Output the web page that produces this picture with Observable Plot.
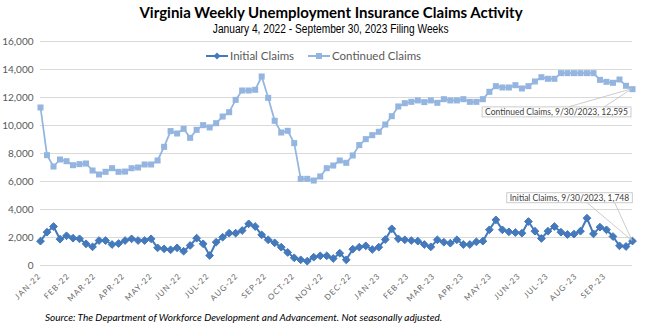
<!DOCTYPE html>
<html>
<head>
<meta charset="utf-8">
<script src="https://cdn.jsdelivr.net/npm/d3@7"></script>
<script src="https://cdn.jsdelivr.net/npm/@observablehq/plot@0.6"></script>
<style>
  body { margin: 0; background: #fff; }
  #wrap { position: relative; width: 662px; height: 330px; overflow: hidden; font-family: Lato, "Open Sans", sans-serif; }
  #chart { position: absolute; left: 0; top: 0; }
  #title { position: absolute; top: 3px; left: 0; width: 662px; text-align: center; font-weight: bold; font-size: 15px; line-height: 18px; color: #000; }
  #subtitle { position: absolute; top: 22px; left: 0; width: 662px; text-align: center; font-family: "Liberation Sans", Arial, sans-serif; font-size: 12px; line-height: 14px; color: #000; }
  #subtitle span { display: inline-block; transform: scaleX(0.85); transform-origin: center; white-space: nowrap; }
  .leg { position: absolute; top: 49px; height: 13px; font-size: 11.5px; line-height: 13px; color: #595959; white-space: nowrap; display: flex; align-items: center; }
  .leg svg { margin-right: 2px; }
  #caption { position: absolute; top: 311px; left: 45px; font-style: italic; font-size: 10px; line-height: 13px; color: #000; white-space: nowrap; }
</style>
</head>
<body>
<div id="wrap">
  <div id="chart"></div>
  <div id="title"></div>
  <div id="subtitle"><span></span></div>
  <div id="leg1" class="leg"></div>
  <div id="leg2" class="leg"></div>
  <div id="caption"></div>
</div>
<script>
// ---- Texts ----
const titleText = "Virginia Weekly Unemployment Insurance Claims Activity";
const subtitleText = "January 4, 2022 - September 30, 2023 Filing Weeks";
const captionText = "Source: The Department of Workforce Development and Advancement. Not seasonally adjusted.";
const seriesNames = ["Initial Claims", "Continued Claims"];
const seriesColors = ["#4479BB", "#93B5DF"];

// ---- Weekly filing weeks (week ending dates) ----
const firstWeek = "2022-01-01";
const lastWeek = "2023-09-30";

// ---- Series values ----
const initialClaims = [
  1740, 2380, 2785, 1880, 2120, 1950, 1905, 1550, 1335, 1785,
  1785, 1500, 1570, 1785, 1905, 1785, 1785, 1905, 1262, 1190,
  1120, 1262, 1020, 1430, 1950, 1550, 715, 1665, 2020, 2310,
  2310, 2500, 2975, 2785, 2190, 1835, 1620, 1310, 930, 550,
  405, 310, 595, 690, 690, 500, 880, 405, 1165, 1310,
  1405, 1145, 1310, 1855, 2620, 1905, 1835, 1785, 1740, 1500,
  1330, 1835, 1665, 1595, 1835, 1500, 1500, 1690, 1740, 2550,
  3260, 2550, 2405, 2355, 2310, 3140, 2450, 1930, 2450, 2785,
  2380, 2215, 2240, 2450, 3380, 2260, 2740, 2550, 2070, 1405,
  1357, 1748
];
const continuedClaims = [
  11286, 7880, 7070, 7570, 7450, 7165, 7240, 7285, 6785, 6500,
  6690, 6950, 6690, 6710, 6950, 7000, 7215, 7215, 7500, 8475,
  9600, 9430, 9760, 9120, 9690, 10025, 9860, 10165, 10640, 10950,
  11830, 12500, 12500, 12550, 13500, 11975, 10335, 9500, 9620, 8740,
  6190, 6190, 6070, 6360, 6950, 7140, 7500, 7335, 7860, 8600,
  9025, 9310, 9550, 10070, 10665, 11360, 11595, 11690, 11790, 11670,
  11790, 11620, 11880, 11790, 11790, 11880, 11690, 11690, 11880, 12405,
  12810, 12715, 12715, 12880, 12645, 12810, 13145, 13450, 13335, 13335,
  13740, 13740, 13740, 13740, 13740, 13740, 13260, 13120, 13050, 13285,
  12835, 12595
];

// ---- Tick labels ----
const monthLabels = ["JAN-22","FEB-22","MAR-22","APR-22","MAY-22","JUN-22","JUL-22","AUG-22","SEP-22","OCT-22","NOV-22","DEC-22",
                     "JAN-23","FEB-23","MAR-23","APR-23","MAY-23","JUN-23","JUL-23","AUG-23","SEP-23"];
const yTicks = [0, 2000, 4000, 6000, 8000, 10000, 12000, 14000, 16000];

// ---- Page texts and legend ----
document.getElementById("title").textContent = titleText;
document.querySelector("#subtitle span").textContent = subtitleText;
document.getElementById("caption").textContent = captionText;
function legendItem(id, left, name, color, shape) {
  const el = document.getElementById(id);
  el.style.left = left + "px";
  const mark = shape === "diamond"
    ? `<path d="M11,1.5L14.5,5L11,8.5L7.5,5Z" fill="${color}"/>`
    : `<rect x="8" y="2" width="6" height="6" fill="${color}"/>`;
  el.innerHTML = `<svg width="22" height="10"><line x1="0" y1="5" x2="22" y2="5" stroke="${color}" stroke-width="2"/>${mark}</svg>${name}`;
}
legendItem("leg1", 206, seriesNames[0], seriesColors[0], "diamond");
legendItem("leg2", 308, seriesNames[1], seriesColors[1], "square");

// ---- Build tables ----
const weeks = d3.utcSaturday.range(new Date(firstWeek), d3.utcDay.offset(new Date(lastWeek), 1));
const data = weeks.map((d, i) => ({date: d, initial: initialClaims[i], continued: continuedClaims[i]}));
const monthStarts = d3.utcMonth.range(new Date(firstWeek), d3.utcDay.offset(new Date(lastWeek), 1));
const xTicks = monthStarts.map((d, i) => ({date: d, label: monthLabels[i]}));
const last = [data[data.length - 1]];
const fmtNum = d3.format(",");
const fmtDate = d3.utcFormat("%-m/%-d/%Y");

const chart = Plot.plot({
  width: 662,
  height: 330,
  marginLeft: 40,
  marginRight: 30,
  marginTop: 41,
  marginBottom: 65,
  style: {fontFamily: "Lato, 'Open Sans', sans-serif", background: "transparent", overflow: "visible"},
  x: {type: "utc", domain: [weeks[0], weeks[weeks.length - 1]], axis: null},
  y: {domain: [0, 16000], axis: null},
  marks: [
    Plot.ruleY(yTicks, {stroke: "#D9D9D9", strokeWidth: 1}),
    Plot.text(yTicks, {y: d => d, frameAnchor: "left", text: d => fmtNum(d), textAnchor: "end", dx: -7, fill: "#595959", fontSize: 10}),
    Plot.text(xTicks, {x: "date", frameAnchor: "bottom", text: "label", rotate: -45, textAnchor: "end", dx: 1, dy: 11, fill: "#6b6b6b", fontSize: 8}),
    Plot.line(data, {x: "date", y: "continued", stroke: seriesColors[1], strokeWidth: 1.75}),
    Plot.dot(data, {x: "date", y: "continued", symbol: "square", r: 3.4, fill: seriesColors[1], stroke: "none"}),
    Plot.line(data, {x: "date", y: "initial", stroke: seriesColors[0], strokeWidth: 2}),
    Plot.dot(data, {x: "date", y: "initial", symbol: "diamond2", r: 3.5, fill: seriesColors[0], stroke: seriesColors[0], strokeWidth: 1}),
    Plot.text(last, {x: "date", y: "continued", text: d => `${seriesNames[1]}, ${fmtDate(d.date)}, ${fmtNum(d.continued)}`,
      dx: -76, dy: 23, fill: "#404040", fontSize: 8.5}),
    Plot.text(last, {x: "date", y: "initial", text: d => `${seriesNames[0]}, ${fmtDate(d.date)}, ${fmtNum(d.initial)}`,
      dx: -63, dy: -43, fill: "#404040", fontSize: 8.5})
  ]
});
document.getElementById("chart").appendChild(chart);

// text groups in order: y labels, x labels, callout continued, callout initial
const textGroups = chart.querySelectorAll('g[aria-label="text"]');

// letter spacing for x labels
if (textGroups[1]) textGroups[1].querySelectorAll("text").forEach(t => t.setAttribute("letter-spacing", "1"));

// callout boxes + leader lines
const sx = chart.scale("x"), sy = chart.scale("y");
function callout(g, value, above, fracs) {
  if (!g) return;
  const t = g.querySelector("text");
  const svgRect = chart.getBoundingClientRect();
  const r = t.getBoundingClientRect();
  const bx = r.left - svgRect.left - 3, by = r.top - svgRect.top, bw = r.width + 6, bh = r.height;
  const px = sx.apply(last[0].date), py = sy.apply(value);
  const ns = "http://www.w3.org/2000/svg";
  const layer = document.createElementNS(ns, "g");
  fracs.forEach(f => {
    const l = document.createElementNS(ns, "line");
    const ex = bx + bw * f;
    const ey = above ? by + bh : by;
    l.setAttribute("x1", px); l.setAttribute("y1", py);
    l.setAttribute("x2", ex); l.setAttribute("y2", ey);
    l.setAttribute("stroke", "#BFBFBF"); l.setAttribute("stroke-width", "0.8");
    layer.appendChild(l);
  });
  const rect = document.createElementNS(ns, "rect");
  rect.setAttribute("x", bx); rect.setAttribute("y", by);
  rect.setAttribute("width", bw); rect.setAttribute("height", bh);
  rect.setAttribute("fill", "#fff"); rect.setAttribute("stroke", "#BFBFBF"); rect.setAttribute("stroke-width", "0.8");
  layer.appendChild(rect);
  chart.insertBefore(layer, g);
}
callout(textGroups[2], last[0].continued, false, [0.58, 0.82]);
callout(textGroups[3], last[0].initial, true, [0.64, 0.86]);
</script>
</body>
</html>
